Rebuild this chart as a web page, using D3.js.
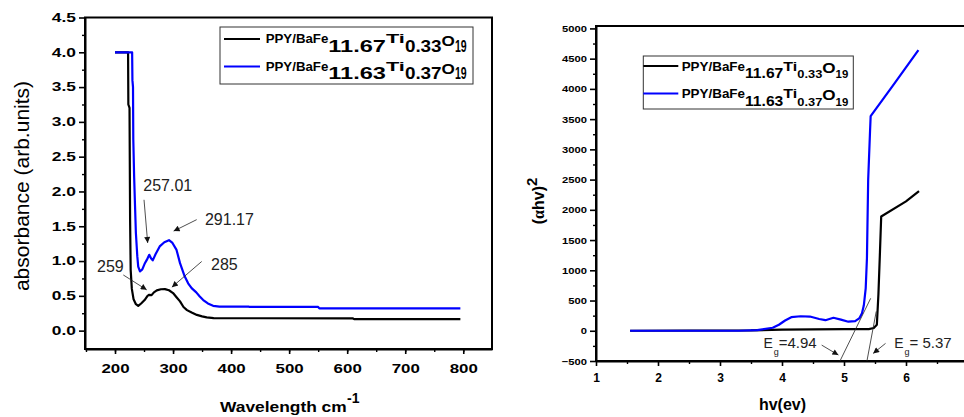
<!DOCTYPE html>
<html>
<head>
<meta charset="utf-8">
<script src="https://cdn.jsdelivr.net/npm/d3@7"></script>
<style>
  body { margin: 0; background: #fff; }
  svg { display: block; font-family: "Liberation Sans", Arial, sans-serif; }
</style>
</head>
<body>
<div class="canvas"></div>
<script>
// left panel: absorbance spectra
const wl1 = [200, 222.5, 223, 225, 226, 227, 229, 232, 236, 240, 245, 251, 256, 259, 263, 267, 272, 279, 286, 293, 300, 306, 312, 318, 324, 332, 341, 350, 358, 370, 450, 610, 612, 795]
const abs1 = [4.0, 4.0, 3.25, 3.2, 1.6, 0.87, 0.6, 0.45, 0.38, 0.355, 0.39, 0.44, 0.5, 0.515, 0.51, 0.55, 0.578, 0.595, 0.597, 0.58, 0.54, 0.48, 0.42, 0.34, 0.295, 0.26, 0.226, 0.205, 0.19, 0.18, 0.178, 0.175, 0.165, 0.165]
const wl2 = [200, 229.5, 230, 231, 231.5, 233, 234.5, 236, 238.4, 240, 243, 247, 251, 255, 259, 262, 265, 270, 277, 285, 293, 299, 306, 312, 320, 326, 332, 340, 346, 352, 360, 369, 380, 430, 432, 550, 552, 795]
const abs2 = [4.0, 4.0, 3.6, 3.5, 2.75, 2.2, 1.79, 1.4, 1.07, 0.92, 0.85, 0.88, 0.96, 1.02, 1.09, 1.04, 1.01, 1.1, 1.21, 1.27, 1.30, 1.26, 1.16, 0.97, 0.78, 0.68, 0.61, 0.55, 0.49, 0.44, 0.39, 0.356, 0.346, 0.345, 0.34, 0.34, 0.32, 0.32]

// right panel: Tauc plot
const ev1 = [1.55, 3.5, 4.0, 5.0, 5.4, 5.48, 5.53, 5.555, 5.58, 5.6, 6.0, 6.21]
const tauc1 = [0, 5, 20, 28, 28, 45, 100, 600, 1300, 1890, 2140, 2310]
const ev2 = [1.55, 3.3, 3.6, 3.85, 3.95, 4.05, 4.15, 4.3, 4.45, 4.6, 4.7, 4.83, 4.95, 5.07, 5.18, 5.25, 5.29, 5.32, 5.35, 5.37, 5.39, 5.42, 5.43, 5.8, 6.2]
const tauc2 = [0, 0, 10, 50, 100, 170, 225, 240, 235, 195, 175, 215, 185, 150, 160, 210, 290, 420, 700, 1200, 2500, 3300, 3550, 4070, 4640]

const legendParts = [
  ["PPY/BaFe", "11.67", "Ti", "0.33", "O", "19"],
  ["PPY/BaFe", "11.63", "Ti", "0.37", "O", "19"]
]
const colors = ["#000000", "#0000ff"]

const wlTicks = [200, 300, 400, 500, 600, 700, 800]
const absTicks = [0, 0.5, 1, 1.5, 2, 2.5, 3, 3.5, 4, 4.5]
const evTicks = [1, 2, 3, 4, 5, 6]
const taucTicks = [-500, 0, 500, 1000, 1500, 2000, 2500, 3000, 3500, 4000, 4500, 5000]

const peakLabels = ["257.01", "291.17", "285", "259"]
const gapLabels = ["=4.94", "= 5.37"]

const svg = d3.select(".canvas")
  .append('svg')
    .attr('width', 964)
    .attr('height', 417)

const defs = svg.append('defs')
defs.append('marker')
    .attr('id', 'arr')
    .attr('viewBox', '0 0 10 10')
    .attr('refX', 10)
    .attr('refY', 5)
    .attr('markerWidth', 8)
    .attr('markerHeight', 6)
    .attr('markerUnits', 'userSpaceOnUse')
    .attr('orient', 'auto')
  .append('path')
    .attr('d', 'M0,0 L10,5 L0,10 z')
    .attr('fill', '#111')

// scales
const xL = d3.scaleLinear().domain([148.3, 849.5]).range([85, 492])
const yL = d3.scaleLinear().domain([-0.264, 4.5]).range([349, 17.5])
const xR = d3.scaleLinear().domain([1, 7]).range([596, 968])
const yR = d3.scaleLinear().domain([-500, 5040]).range([361, 26])

function stretchLeft(g, sx, gap) {
  g.selectAll('.tick text')
    .attr('x', -gap / sx)
    .attr('transform', `scale(${sx},1)`)
}

function styleAxis(g, size) {
  g.select('.domain').attr('stroke-width', 2)
  g.selectAll('.tick line').attr('stroke-width', 1.6)
  g.selectAll('.tick text')
    .attr('font-family', '"Liberation Sans", Arial, sans-serif')
    .attr('font-weight', 'bold')
    .attr('font-size', size)
    .attr('fill', '#000')
}

function minorAxis(g, axis) {
  g.call(axis.tickFormat(''))
  g.select('.domain').remove()
  g.selectAll('.tick line').attr('stroke-width', 1.4)
}

// one text element per legend row, each piece placed and sized on its own
function formula(g, parts, x0, base, layout) {
  const t = g.append('text').attr('font-weight', 'bold')
  let x = x0
  parts.forEach((p, i) => {
    const s = layout[i]
    t.append('tspan')
      .attr('x', x)
      .attr('y', base + s.dy)
      .attr('font-size', s.size)
      .attr('textLength', s.w)
      .attr('lengthAdjust', 'spacingAndGlyphs')
      .text(p)
    x += s.w
  })
}

function legend(box, sample, textX, rows, layout) {
  const g = svg.append('g')
  g.append('rect')
    .attr('x', box[0]).attr('y', box[1])
    .attr('width', box[2]).attr('height', box[3])
    .attr('fill', '#fff').attr('stroke', '#333').attr('stroke-width', 1)
  legendParts.forEach((parts, i) => {
    g.append('line')
      .attr('x1', sample[0]).attr('x2', sample[1])
      .attr('y1', sample[2] + i * rows[1]).attr('y2', sample[2] + i * rows[1])
      .attr('stroke', colors[i]).attr('stroke-width', 2)
    formula(g, parts, textX, rows[0] + i * rows[1], layout)
  })
}

// ---------- left panel ----------
const left = svg.append('g')

left.append('g')
  .attr('transform', `translate(${xL.range()[0]},0)`)
  .call(g => minorAxis(g, d3.axisLeft(yL).tickValues(d3.range(0.25, 4.5, 0.5)).tickSize(3)))

const yAxisL = left.append('g')
  .attr('transform', `translate(${xL.range()[0]},0)`)
  .call(d3.axisLeft(yL).tickValues(absTicks).tickSize(6).tickSizeOuter(0).tickPadding(3).tickFormat(d3.format('.1f')))
styleAxis(yAxisL, 12)
stretchLeft(yAxisL, 1.45, 9)

left.append('g')
  .attr('transform', `translate(0,${yL.range()[0]})`)
  .call(g => minorAxis(g, d3.axisBottom(xL).tickValues(d3.range(150, 850, 50)).tickSize(3)))

const xAxisL = left.append('g')
  .attr('transform', `translate(0,${yL.range()[0]})`)
  .call(d3.axisBottom(xL).tickValues(wlTicks).tickSize(5).tickSizeOuter(0).tickPadding(10))
styleAxis(xAxisL, 13)
xAxisL.selectAll('.tick text').attr('transform', 'scale(1.3,1)')

left.append('rect')
  .attr('x', xL.range()[0]).attr('y', yL.range()[1])
  .attr('width', xL.range()[1] - xL.range()[0])
  .attr('height', yL.range()[0] - yL.range()[1])
  .attr('fill', 'none').attr('stroke', '#000').attr('stroke-width', 2)

const lineL = d3.line().x(d => xL(d[0])).y(d => yL(d[1]))
const seriesL = [d3.zip(wl1, abs1), d3.zip(wl2, abs2)]
seriesL.forEach((s, i) => {
  left.append('path')
    .attr('d', lineL(s))
    .attr('fill', 'none')
    .attr('stroke', colors[i])
    .attr('stroke-width', 2.2)
    .attr('stroke-linejoin', 'round')
})

const notesL = [
  { tx: 248.7, ty: 2.01, from: [250, 1.88], to: [256.3, 1.26] },
  { tx: 355, ty: 1.52, from: [340.7, 1.595], to: [301, 1.43] },
  { tx: 365.4, ty: 0.875, from: [349.4, 0.994], to: [298, 0.625] },
  { tx: 169, ty: 0.846, from: [214.3, 0.80], to: [254.6, 0.586] }
]
notesL.forEach((n, i) => {
  left.append('text')
    .attr('x', xL(n.tx)).attr('y', yL(n.ty))
    .attr('font-size', 16).attr('fill', '#222')
    .text(peakLabels[i])
  left.append('line')
    .attr('x1', xL(n.from[0])).attr('y1', yL(n.from[1]))
    .attr('x2', xL(n.to[0])).attr('y2', yL(n.to[1]))
    .attr('stroke', '#222').attr('stroke-width', 0.8)
    .attr('marker-end', 'url(#arr)')
})

left.append('text')
  .attr('transform', 'translate(29,186) rotate(-90)')
  .attr('text-anchor', 'middle')
  .attr('font-size', 21)
  .text('absorbance (arb.units)')

const xTitleL = left.append('text')
  .attr('x', 220).attr('y', 411.7)
  .attr('font-size', 14).attr('font-weight', 'bold')
xTitleL.append('tspan')
  .attr('textLength', 126.7).attr('lengthAdjust', 'spacingAndGlyphs')
  .text('Wavelength cm')
xTitleL.append('tspan')
  .attr('x', 347).attr('y', 402.5)
  .text('-1')

legend([220, 27, 253, 57], [224, 260, 39], 265.7, [43.3, 27.4], [
  { w: 62.6, dy: 0, size: 13.2 },
  { w: 57.6, dy: 8.4, size: 16 },
  { w: 19, dy: 0, size: 13 },
  { w: 36.7, dy: 8.4, size: 16 },
  { w: 13.3, dy: 3, size: 15 },
  { w: 11.7, dy: 8.4, size: 16 }
])

// ---------- right panel ----------
const right = svg.append('g')

right.append('g')
  .attr('transform', `translate(${xR.range()[0]},0)`)
  .call(g => minorAxis(g, d3.axisLeft(yR).tickValues(d3.range(-250, 5000, 500)).tickSize(3)))

const yAxisR = right.append('g')
  .attr('transform', `translate(${xR.range()[0]},0)`)
  .call(d3.axisLeft(yR).tickValues(taucTicks).tickSize(6).tickSizeOuter(0).tickPadding(3).tickFormat(d3.format('d')))
styleAxis(yAxisR, 9.5)
stretchLeft(yAxisR, 1.18, 9)

right.append('g')
  .attr('transform', `translate(0,${yR.range()[0]})`)
  .call(g => minorAxis(g, d3.axisBottom(xR).tickValues(d3.range(1.5, 7, 1)).tickSize(3)))

const xAxisR = right.append('g')
  .attr('transform', `translate(0,${yR.range()[0]})`)
  .call(d3.axisBottom(xR).tickValues(evTicks).tickSize(5).tickSizeOuter(0).tickPadding(7).tickFormat(d3.format('d')))
styleAxis(xAxisR, 12)

right.append('rect')
  .attr('x', xR.range()[0]).attr('y', yR.range()[1])
  .attr('width', xR.range()[1] - xR.range()[0])
  .attr('height', yR.range()[0] - yR.range()[1])
  .attr('fill', 'none').attr('stroke', '#000').attr('stroke-width', 2)

const lineR = d3.line().x(d => xR(d[0])).y(d => yR(d[1]))
const seriesR = [d3.zip(ev1, tauc1), d3.zip(ev2, tauc2)]
seriesR.forEach((s, i) => {
  right.append('path')
    .attr('d', lineR(s))
    .attr('fill', 'none')
    .attr('stroke', colors[i])
    .attr('stroke-width', 2.2)
    .attr('stroke-linejoin', 'round')
})

// tangent lines for the band gap
const tangents = [[[4.935, -500], [5.43, 536]], [[5.37, -500], [5.52, 320]]]
tangents.forEach(t => {
  right.append('path')
    .attr('d', lineR(t))
    .attr('stroke', '#222').attr('stroke-width', 0.8)
})

const notesR = [
  { tx: 3.70, ty: -291, from: [4.64, -237], to: [4.91, -402] },
  { tx: 5.81, ty: -291, from: [5.67, -209], to: [5.47, -374] }
]
notesR.forEach((n, i) => {
  const t = right.append('text')
    .attr('x', xR(n.tx)).attr('y', yR(n.ty))
    .attr('fill', '#222')
  t.append('tspan').attr('font-size', 14).text('E')
  t.append('tspan').attr('font-size', 9).attr('dx', 1).attr('dy', 6.5).text('g')
  t.append('tspan').attr('font-size', 15).attr('dy', -6.5).text(gapLabels[i])
  right.append('line')
    .attr('x1', xR(n.from[0])).attr('y1', yR(n.from[1]))
    .attr('x2', xR(n.to[0])).attr('y2', yR(n.to[1]))
    .attr('stroke', '#222').attr('stroke-width', 0.8)
    .attr('marker-end', 'url(#arr)')
})

const yTitle = right.append('text')
  .attr('transform', 'translate(544,201) rotate(-90)')
  .attr('text-anchor', 'middle')
  .attr('font-size', 16).attr('font-weight', 'bold')
yTitle.append('tspan').text('(')
yTitle.append('tspan').attr('font-family', '"Liberation Serif", serif').text('α')
yTitle.append('tspan').text('hv)')
yTitle.append('tspan').attr('font-size', 15).attr('dy', -7).text('2')

right.append('text')
  .attr('x', 782.5).attr('y', 410)
  .attr('text-anchor', 'middle')
  .attr('font-size', 16).attr('font-weight', 'bold')
  .text('hv(ev)')

legend([643.3, 56, 210, 53], [643.3, 678.3, 66], 681.7, [70.7, 27.6], [
  { w: 63.3, dy: 0, size: 13.3 },
  { w: 38.3, dy: 7.6, size: 15.2 },
  { w: 14, dy: 0, size: 13 },
  { w: 25, dy: 7.6, size: 11.2 },
  { w: 13.3, dy: 2, size: 15 },
  { w: 12.7, dy: 7.6, size: 11.4 }
])
</script>
</body>
</html>
